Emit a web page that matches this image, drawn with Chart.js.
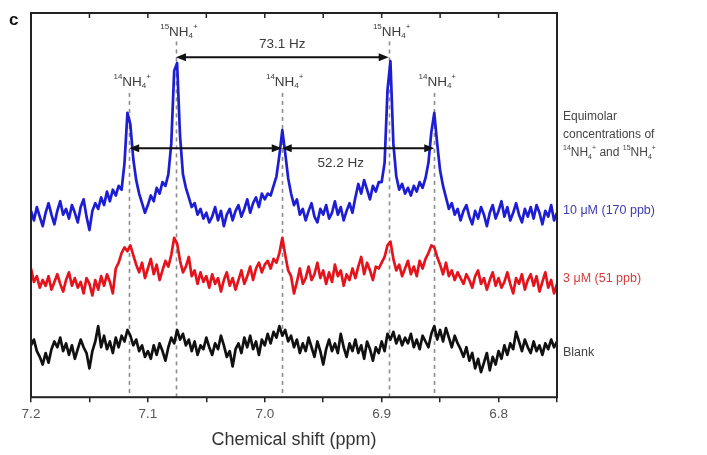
<!DOCTYPE html>
<html>
<head>
<meta charset="utf-8">
<script src="https://cdn.jsdelivr.net/npm/chart.js@4.4.1/dist/chart.umd.min.js"></script>
<style>
  html, body { margin: 0; padding: 0; background: #fff; }
  #wrap { width: 707px; height: 455px; position: relative; }
</style>
</head>
<body>
<div id="wrap"><canvas id="nmr" width="707" height="455"></canvas></div>
<script>
'use strict';
// 1H NMR, ammonium region. Spectra sampled every 0.0025 ppm from 7.2 down to 6.75,
// values read off the figure (arbitrary intensity, traces already stacked).

const SHIFT_START = 7.2;
const SHIFT_STEP = 0.0025;
const SHIFT_COUNT = 181;
const X_MIN = 6.75, X_MAX = 7.2, X_TICK_STEP = 0.05;

const PEAK_SHIFTS   = [7.116, 7.076, 6.9855, 6.894, 6.855];
const PEAK_ISOTOPES = ['14', '15', '14', '15', '14'];
const J15 = { label: '73.1 Hz', from: 7.076, to: 6.894 };
const J14 = { label: '52.2 Hz', from: 7.116, mid: 6.9855, to: 6.855 };

const SERIES_NAMES = ['10 μM (170 ppb)', '3 μM (51 ppb)', 'Blank'];

const HIGH = [
  48.5, 46.0, 49.5, 47.0, 44.5, 48.0, 50.5, 47.5, 45.0, 48.5,
  51.0, 47.5, 49.0, 46.5, 50.0, 48.0, 45.5, 49.5, 51.5, 47.0,
  43.5, 48.5, 50.5, 49.0, 52.0, 50.0, 53.5, 51.0, 54.0, 52.5,
  55.0, 54.0, 61.0, 74.0, 71.0, 62.0, 56.5, 53.0, 50.5, 48.0,
  50.0, 52.5, 51.0, 54.5, 53.0, 56.0, 55.0, 58.0, 66.0, 85.0,
  87.0, 68.0, 58.0, 54.5, 52.0, 49.5, 50.5, 47.5, 49.0, 46.5,
  48.0, 45.5, 47.0, 49.5, 46.0, 48.5, 44.5, 47.5, 49.0, 46.0,
  48.5, 50.0, 47.0, 49.0, 51.5, 48.0, 50.5, 52.0, 49.5, 53.0,
  51.5, 53.0, 52.5, 55.0, 57.5, 63.0, 69.5, 63.5, 57.0, 53.0,
  50.0, 51.5, 47.5, 49.0, 46.0, 48.5, 50.5, 47.0, 45.5, 49.0,
  47.5, 50.0, 46.5, 48.0, 51.0, 47.5, 49.5, 46.0, 48.5, 50.5,
  48.0, 52.0, 55.5, 53.0, 56.5, 54.0, 51.5, 55.0, 53.5, 56.0,
  56.0, 61.0, 80.0, 87.5, 66.0, 57.5, 54.0, 55.5, 53.0, 54.5,
  52.5, 55.0, 53.5, 56.0, 54.5, 57.0, 61.0, 69.0, 74.0, 66.0,
  59.0, 55.0, 52.0, 49.0, 50.5, 47.5, 49.0, 46.0, 48.5, 50.0,
  47.0, 45.0, 48.5, 46.5, 49.5, 47.5, 44.5, 48.0, 50.0, 46.5,
  48.5, 51.0, 47.0, 49.5, 46.0, 48.0, 50.5, 47.5, 45.5, 49.0,
  47.0, 49.5, 46.5, 50.0, 48.0, 45.0, 48.5, 47.0, 50.0, 46.0, 48.0
];

const LOW = [
  33.5, 30.0, 31.5, 28.5, 30.5, 29.0, 31.5, 28.0, 30.0, 32.0,
  29.5, 27.5, 30.5, 32.5, 29.0, 31.0, 28.5, 30.0, 27.0, 31.0,
  29.5, 26.5, 30.5, 28.0, 31.5, 29.0, 32.0, 30.0, 27.0, 33.5,
  35.0, 37.5, 39.0, 38.0, 39.5, 37.0, 34.5, 32.5, 35.0, 31.0,
  33.5, 36.0, 32.0, 34.5, 30.5, 33.0, 35.5, 34.0, 37.0, 41.5,
  40.0, 35.5, 32.5, 34.0, 36.5, 31.5, 33.0, 29.5, 32.5, 30.0,
  31.5, 28.5, 32.0, 29.5, 31.0, 27.5, 30.5, 32.5, 29.0, 31.0,
  28.0, 30.5, 33.0, 29.5, 31.5, 34.0, 30.5, 33.5, 35.0, 32.5,
  34.5, 35.5, 33.5, 36.0, 35.0, 37.5, 41.5, 37.0, 33.0, 31.5,
  27.0, 30.0, 33.5, 29.5, 31.0, 34.0, 30.5, 32.0, 35.0, 31.0,
  33.0, 29.5, 32.5, 30.0, 34.5, 31.5, 33.0, 29.0, 32.0, 30.5,
  33.5, 31.0, 34.0, 36.5, 32.0, 35.0, 33.0, 30.5, 34.0, 33.5,
  35.0, 36.5, 39.5, 40.5, 36.0, 33.0, 34.5, 31.5, 33.5, 35.5,
  32.0, 34.0, 31.5, 35.5, 33.5, 36.0, 37.5, 39.5, 39.0, 36.5,
  34.5, 32.0, 35.0, 31.5, 33.0, 30.5, 32.5, 31.0, 29.5, 32.0,
  30.5, 28.5, 31.5, 33.0, 29.5, 31.0, 28.0, 30.5, 32.5, 29.0,
  31.0, 28.5, 30.0, 32.5, 29.5, 27.0, 31.0, 29.5, 32.0, 28.0,
  30.5, 32.0, 29.0, 31.5, 27.5, 30.0, 32.5, 28.5, 30.5, 27.0, 29.5
];

const BLANK = [
  13.5, 15.0, 12.0, 10.5, 8.5, 11.5, 9.0, 12.5, 14.5, 13.0,
  15.5, 12.0, 14.0, 11.0, 13.5, 10.0, 12.5, 15.0, 13.0, 11.5,
  7.5, 12.0, 14.5, 18.5, 13.0, 16.0, 12.5, 14.5, 11.5, 15.5,
  13.0, 16.0, 14.5, 17.5, 16.0, 13.5, 15.0, 12.0, 13.5, 10.5,
  12.0, 10.0, 13.5, 11.0, 14.0, 12.0, 9.5, 13.0, 15.5, 14.0,
  17.5, 15.0, 16.5, 13.5, 15.0, 12.0, 14.5, 11.0, 13.5, 12.5,
  15.5, 13.0, 11.0, 14.0, 12.5, 16.0, 13.5, 10.5, 12.0, 8.0,
  12.5, 14.0, 11.5, 15.5, 13.0, 16.0, 12.5, 14.5, 11.0, 15.0,
  13.5, 16.5, 14.0, 17.0, 15.5, 18.5, 16.0, 17.5, 14.5, 16.0,
  13.0, 15.0, 11.5, 14.0, 12.0, 15.5, 13.0, 10.5, 14.5, 12.0,
  8.5, 12.5, 15.0, 12.0, 14.0, 11.5, 16.5, 13.0, 10.5, 14.0,
  12.0, 15.0, 11.5, 13.5, 10.0, 14.5, 12.5, 9.5, 13.0, 11.5,
  14.5, 12.0, 16.5, 15.0, 17.0, 14.0, 16.0, 13.5, 15.5, 14.0,
  16.5, 13.0, 15.0, 12.5, 16.0, 14.5, 13.0, 16.5, 18.5, 15.0,
  17.5, 14.5, 18.0, 15.5, 13.0, 16.0, 14.0, 12.5, 10.5, 13.0,
  9.5, 11.5, 7.5, 10.0, 6.5, 9.0, 11.5, 7.0, 10.5, 8.5,
  12.0, 10.0, 13.5, 11.0, 14.0, 12.5, 17.0, 14.5, 12.0, 15.0,
  13.0, 11.5, 14.5, 12.0, 13.5, 11.0, 14.0, 12.5, 15.0, 13.0, 14.5
];

// sampling grid (ppm), same for every trace
const SHIFTS = Array.from({ length: SHIFT_COUNT }, (_, i) => +(SHIFT_START - SHIFT_STEP * i).toFixed(4));

const TRACE_COLORS = ['#1d1dd4', '#e5141c', '#111111'];
const LABEL_COLORS = ['#3c3cb4', '#d43c3c', '#444444'];
const FONT = '"Liberation Sans", Arial, sans-serif';

// annotation heights, in y-axis units (0 = frame bottom, 100 = frame top)
const Y_LBL15 = 95.0, Y_LBL14 = 82.0, Y_DASH15 = 92.6, Y_DASH14 = 79.2;
const Y_J15 = 88.5, Y_J15_TXT = 91.8, Y_J14 = 64.8, Y_J14_TXT = 60.9;
const Y_SERIES_LBL = [48.7, 31.0, 11.7];

// draw "14NH4+" style text with small super/subscripts
function richText(ctx, parts, x, y, size, align) {
  const fontFor = p => (p.s ? Math.round(size * 0.62) : size) + 'px ' + FONT;
  let w = 0;
  parts.forEach(p => { ctx.font = fontFor(p); w += ctx.measureText(p.t).width; });
  let cx = align === 'center' ? x - w / 2 : x;
  ctx.textAlign = 'left';
  ctx.textBaseline = 'middle';
  parts.forEach(p => {
    ctx.font = fontFor(p);
    const dy = p.s === 'sup' ? -size * 0.38 : p.s === 'sub' ? size * 0.3 : 0;
    ctx.fillText(p.t, cx, y + dy);
    cx += ctx.measureText(p.t).width;
  });
}
const ion = iso => [{ t: iso, s: 'sup' }, { t: 'NH' }, { t: '4', s: 'sub' }, { t: '+', s: 'sup' }];

function head(ctx, x, y, dir) {
  ctx.beginPath();
  ctx.moveTo(x, y);
  ctx.lineTo(x - dir * 10, y - 4);
  ctx.lineTo(x - dir * 10, y + 4);
  ctx.closePath();
  ctx.fill();
}
function dblArrow(ctx, x1, x2, y) {
  ctx.beginPath();
  ctx.moveTo(x1 + 4, y); ctx.lineTo(x2 - 4, y);
  ctx.stroke();
  head(ctx, x1, y, -1);
  head(ctx, x2, y, 1);
}

const decor = {
  id: 'decor',
  beforeDatasetsDraw(chart) {
    const { ctx, chartArea: a, scales: { x, y } } = chart;
    ctx.save();
    ctx.strokeStyle = '#8c8c8c';
    ctx.lineWidth = 1.6;
    ctx.setLineDash([4, 4]);
    PEAK_SHIFTS.forEach((p, i) => {
      const px = Math.round(x.getPixelForValue(p)) + 0.5;
      const top = y.getPixelForValue(PEAK_ISOTOPES[i] === '15' ? Y_DASH15 : Y_DASH14);
      ctx.beginPath(); ctx.moveTo(px, top); ctx.lineTo(px, a.bottom); ctx.stroke();
    });
    ctx.restore();
  },
  afterDatasetsDraw(chart) {
    const { ctx, chartArea: a, scales: { x, y } } = chart;
    ctx.save();
    // frame + inward ticks along the top
    ctx.strokeStyle = '#222';
    ctx.lineWidth = 2;
    ctx.strokeRect(a.left, a.top, a.right - a.left, a.bottom - a.top);
    ctx.lineWidth = 1.5;
    x.ticks.forEach(t => {
      const px = x.getPixelForValue(t.value);
      ctx.beginPath(); ctx.moveTo(px, a.top); ctx.lineTo(px, a.top + 5); ctx.stroke();
    });

    // peak labels
    ctx.fillStyle = '#3a3a3a';
    PEAK_SHIFTS.forEach((p, i) => {
      const iso = PEAK_ISOTOPES[i];
      richText(ctx, ion(iso), x.getPixelForValue(p) + 3, y.getPixelForValue(iso === '15' ? Y_LBL15 : Y_LBL14), 13.5, 'center');
    });

    // coupling arrows
    ctx.strokeStyle = '#111';
    ctx.fillStyle = '#111';
    ctx.lineWidth = 2;
    dblArrow(ctx, x.getPixelForValue(J15.from), x.getPixelForValue(J15.to), y.getPixelForValue(Y_J15));
    const yj = y.getPixelForValue(Y_J14);
    dblArrow(ctx, x.getPixelForValue(J14.from), x.getPixelForValue(J14.mid), yj);
    dblArrow(ctx, x.getPixelForValue(J14.mid), x.getPixelForValue(J14.to), yj);
    ctx.fillStyle = '#3a3a3a';
    ctx.font = '13.5px ' + FONT;
    ctx.textAlign = 'center';
    ctx.textBaseline = 'middle';
    ctx.fillText(J15.label, (x.getPixelForValue(J15.from) + x.getPixelForValue(J15.to)) / 2, y.getPixelForValue(Y_J15_TXT));
    ctx.fillText(J14.label, x.getPixelForValue(6.935), y.getPixelForValue(Y_J14_TXT));

    // right-hand legend text
    const lx = a.right + 6;
    ctx.fillStyle = '#444';
    ctx.font = '12px ' + FONT;
    ctx.textAlign = 'left';
    ctx.fillText('Equimolar', lx, 117);
    ctx.fillText('concentrations of', lx, 135);
    const and = [...ion('14'), { t: ' and ' }, ...ion('15')];
    richText(ctx, and, lx, 153, 12, 'left');
    SERIES_NAMES.forEach((name, i) => {
      ctx.fillStyle = LABEL_COLORS[i];
      ctx.font = '12.5px ' + FONT;
      ctx.fillText(name, lx, y.getPixelForValue(Y_SERIES_LBL[i]));
    });

    // panel letter
    ctx.fillStyle = '#111';
    ctx.font = 'bold 17px ' + FONT;
    ctx.fillText('c', 9, 20);
    ctx.restore();
  }
};

new Chart(document.getElementById('nmr'), {
  type: 'line',
  data: {
    datasets: [HIGH, LOW, BLANK].map((vals, i) => ({
      label: SERIES_NAMES[i],
      data: vals.map((v, k) => ({ x: SHIFTS[k], y: v })),
      borderColor: TRACE_COLORS[i],
      borderWidth: 2.7,
      borderJoinStyle: 'round',
      pointRadius: 0,
      tension: 0,
      fill: false
    }))
  },
  options: {
    responsive: false,
    animation: false,
    devicePixelRatio: 1,
    layout: { padding: { left: 31, right: 150, top: 13, bottom: 4 } },
    plugins: { legend: { display: false }, tooltip: { enabled: false } },
    scales: {
      x: {
        type: 'linear',
        reverse: true,
        min: X_MIN,
        max: X_MAX,
        border: { display: false },
        grid: { drawOnChartArea: false, drawTicks: true, tickLength: 5, color: '#222', lineWidth: 1.5 },
        ticks: {
          stepSize: X_TICK_STEP,
          autoSkip: false,
          maxRotation: 0,
          padding: 4,
          color: '#555',
          font: { family: FONT, size: 13.5 },
          callback: v => Math.abs(v * 10 - Math.round(v * 10)) < 1e-6 ? v.toFixed(1) : ''
        },
        title: {
          display: true,
          text: 'Chemical shift (ppm)',
          color: '#333',
          font: { family: FONT, size: 18 },
          padding: { top: 3, bottom: 0 }
        }
      },
      y: { display: false, min: 0, max: 100 }
    }
  },
  plugins: [decor]
});
</script>
</body>
</html>
